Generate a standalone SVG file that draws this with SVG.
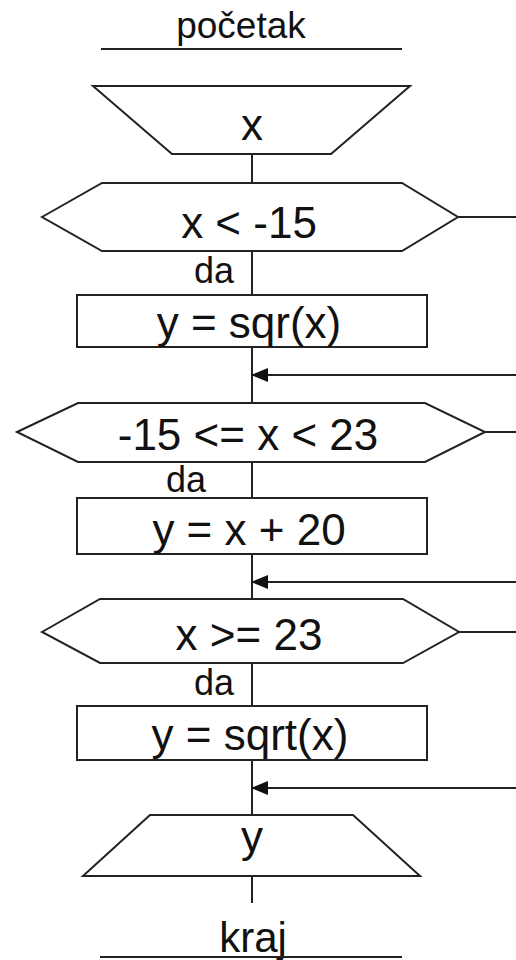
<svg xmlns="http://www.w3.org/2000/svg" width="516" height="960" viewBox="0 0 516 960">
<style>
.s{fill:#fff;stroke:#222;stroke-width:2}
.l{fill:none;stroke:#222;stroke-width:2}
.t{font-family:"Liberation Sans",Arial,sans-serif;font-size:44px;fill:#111;text-anchor:middle}
.d{font-family:"Liberation Sans",Arial,sans-serif;font-size:36px;fill:#111;text-anchor:middle}
</style>
<defs>
<marker id="ah" markerWidth="17" markerHeight="14" refX="17" refY="7" orient="auto" markerUnits="userSpaceOnUse">
<path d="M0,0 L17,7 L0,14 Z" fill="#111"/>
</marker>
</defs>
<g id="connectors">
<line class="l" x1="252" y1="154" x2="252" y2="183"/>
<line class="l" x1="252" y1="251" x2="252" y2="295"/>
<line class="l" x1="252" y1="347" x2="252" y2="403"/>
<line class="l" x1="252" y1="462" x2="252" y2="498"/>
<line class="l" x1="252" y1="554" x2="252" y2="599"/>
<line class="l" x1="252" y1="663" x2="252" y2="706"/>
<line class="l" x1="252" y1="760" x2="252" y2="815"/>
<line class="l" x1="252" y1="876" x2="252" y2="903"/>
<line class="l" x1="458" y1="217" x2="516" y2="217"/>
<line class="l" x1="485" y1="432" x2="516" y2="432"/>
<line class="l" x1="459" y1="632" x2="516" y2="632"/>
<line class="l" x1="516" y1="375" x2="251" y2="375" marker-end="url(#ah)"/>
<line class="l" x1="516" y1="582" x2="251" y2="582" marker-end="url(#ah)"/>
<line class="l" x1="516" y1="788" x2="251" y2="788" marker-end="url(#ah)"/>
<text class="d" x="214" y="283">da</text>
<text class="d" x="186" y="492">da</text>
<text class="d" x="214" y="695">da</text>
</g>
<g id="start">
<line class="l" x1="101" y1="49" x2="402" y2="49"/>
<text class="t" x="241" y="38" style="font-size:37px">početak</text>
</g>
<g id="input">
<polygon class="s" points="93,86 410,86 331,154 172,154"/>
<text class="t" x="252" y="140">x</text>
</g>
<g id="dec1">
<polygon class="s" points="42,217 102,183 402,183 458,217 402,251 102,251"/>
<text class="t" x="249" y="238">x &lt; -15</text>
</g>
<g id="proc1">
<rect class="s" x="77" y="295" width="350" height="52"/>
<text class="t" x="249" y="338">y = sqr(x)</text>
</g>
<g id="dec2">
<polygon class="s" points="17,432 78,403 425,403 485,432 425,462 78,462"/>
<text class="t" x="248" y="450">-15 &lt;= x &lt; 23</text>
</g>
<g id="proc2">
<rect class="s" x="77" y="498" width="350" height="56"/>
<text class="t" x="249" y="545">y = x + 20</text>
</g>
<g id="dec3">
<polygon class="s" points="42,632 100,599 403,599 459,632 403,663 100,663"/>
<text class="t" x="249" y="650">x &gt;= 23</text>
</g>
<g id="proc3">
<rect class="s" x="77" y="706" width="350" height="54"/>
<text class="t" x="250" y="750">y = sqrt(x)</text>
</g>
<g id="output">
<polygon class="s" points="150,815 353,815 420,876 83,876"/>
<text class="t" x="252" y="852">y</text>
</g>
<g id="end">
<text class="t" x="253" y="952" style="font-size:42px">kraj</text>
<line class="l" x1="100" y1="957" x2="402" y2="957"/>
</g>
</svg>
